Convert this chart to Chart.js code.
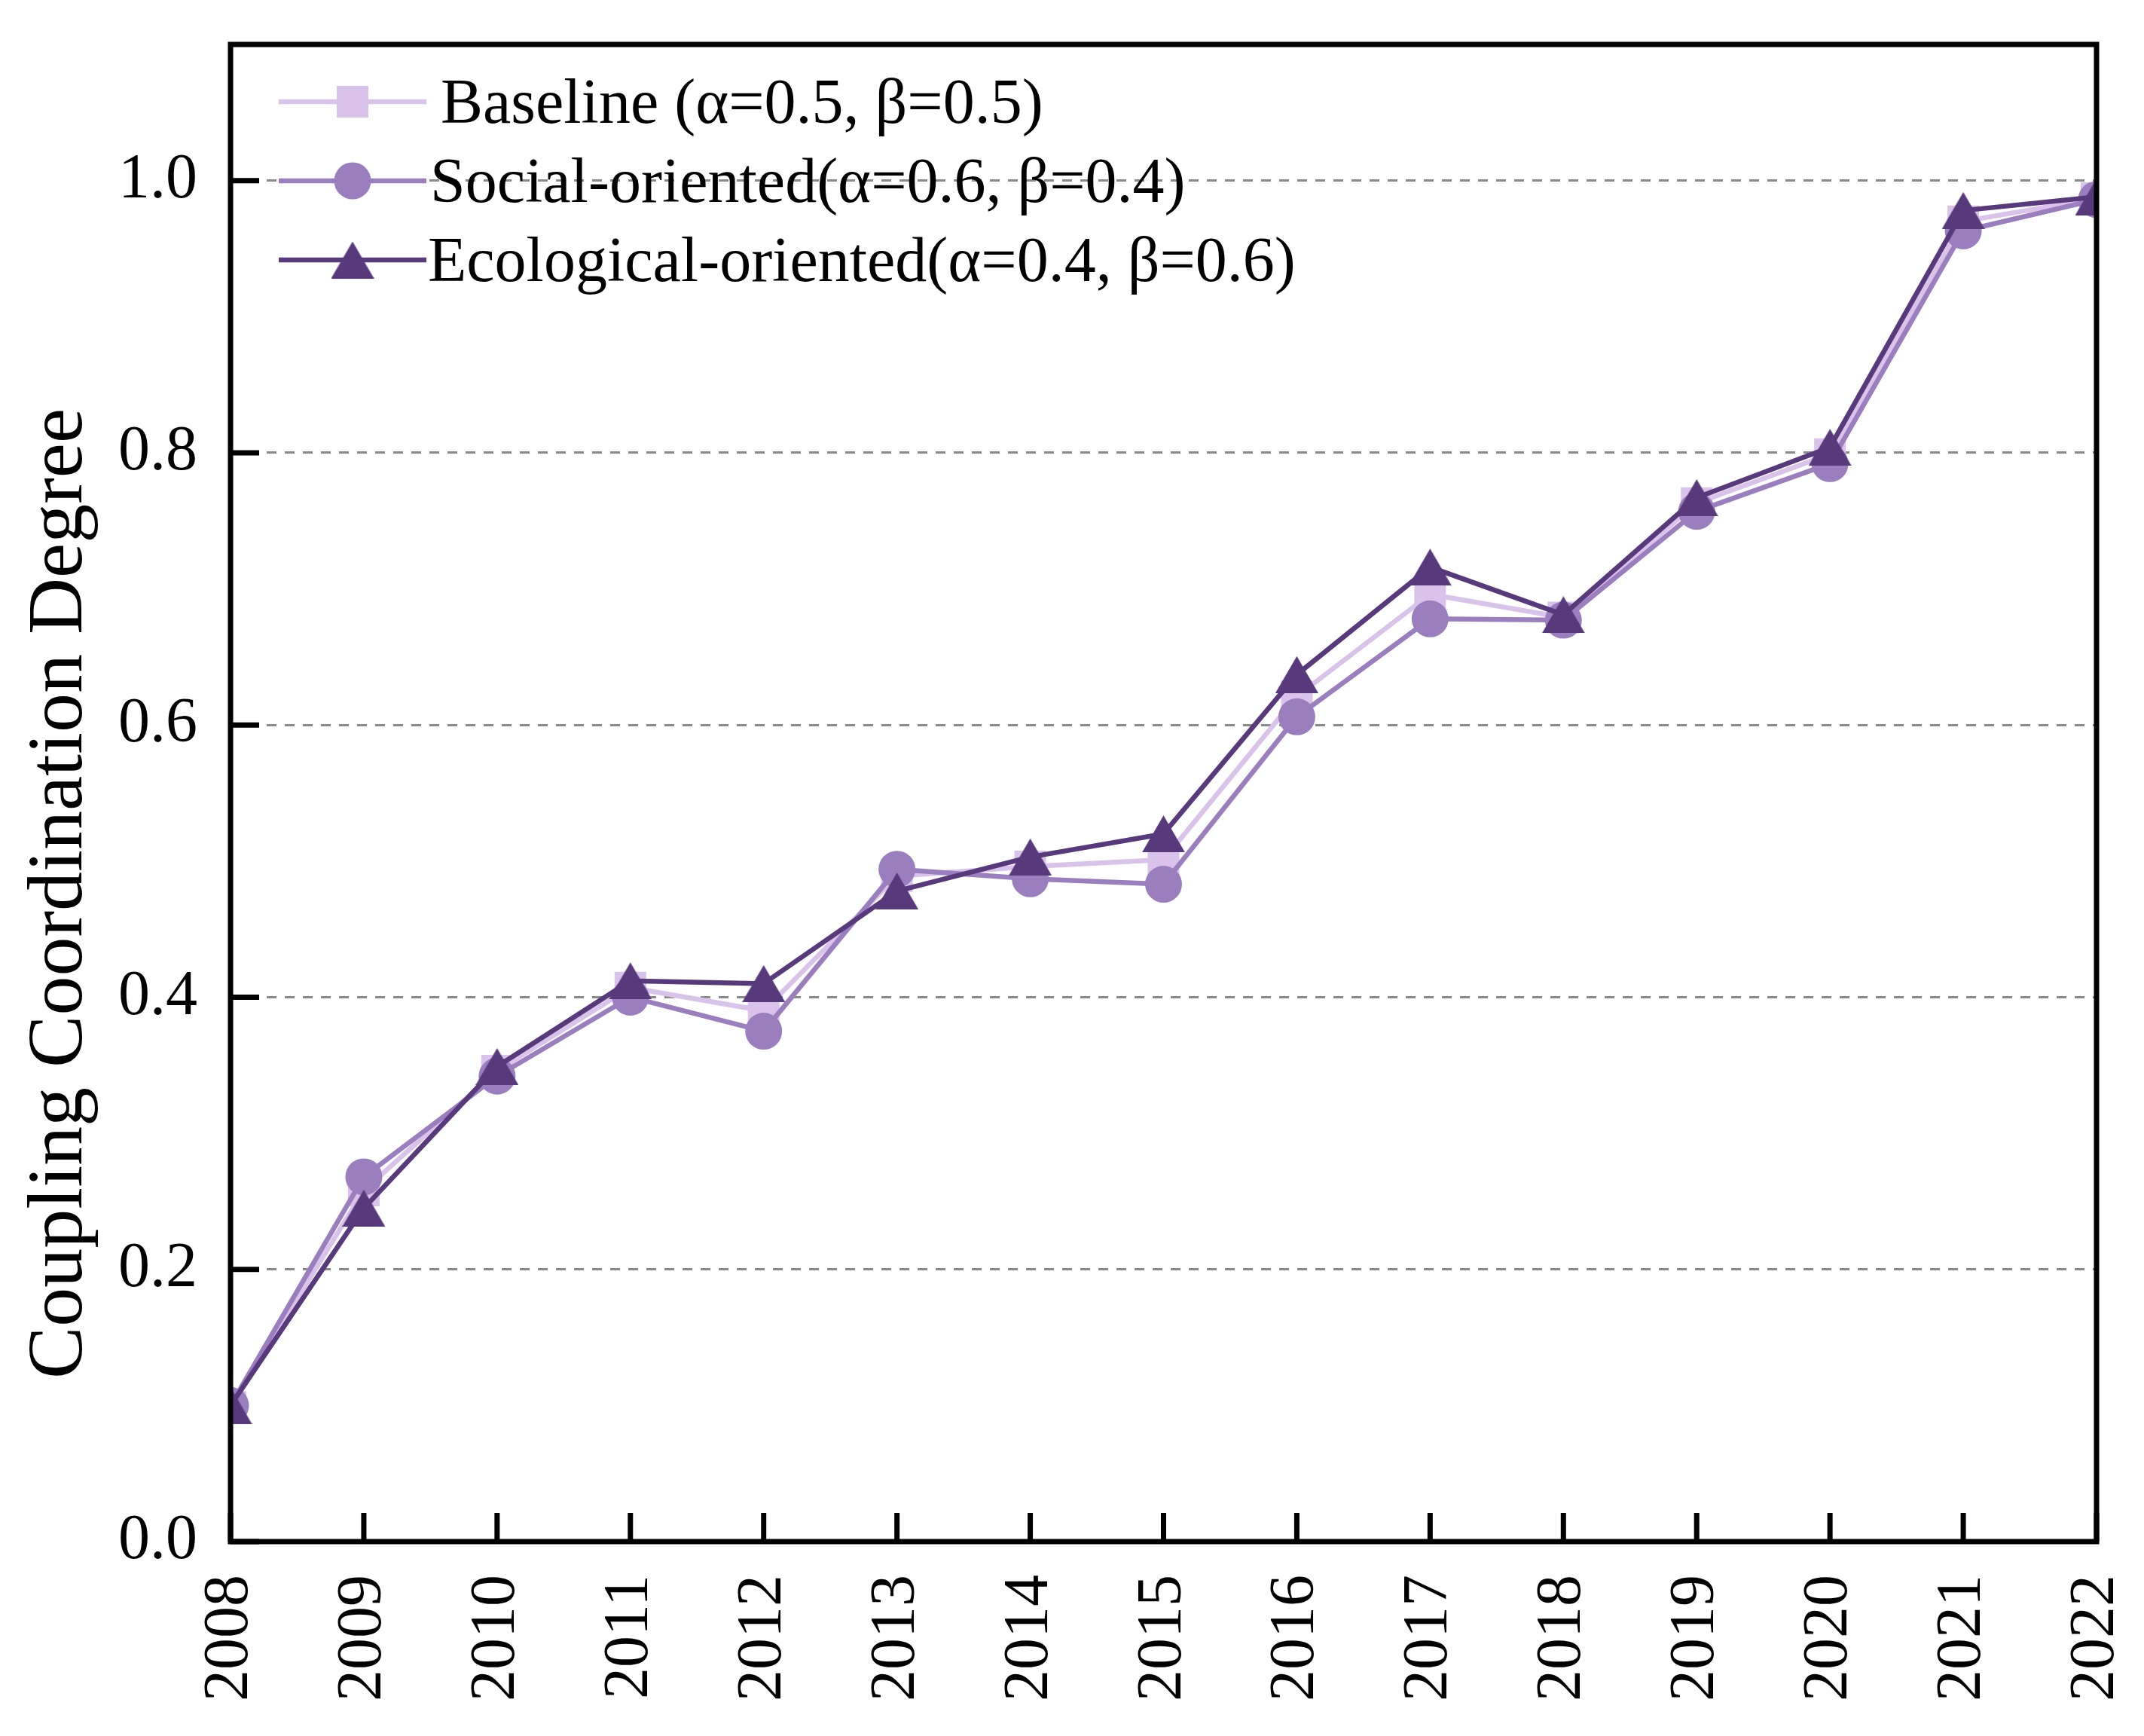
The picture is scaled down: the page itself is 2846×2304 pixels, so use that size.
<!DOCTYPE html>
<html lang="en">
<head>
  <meta charset="utf-8" />
  <title>Coupling Coordination Degree</title>
  <style>
html, body {
  margin: 0;
  padding: 0;
  background: #fff;
}
#chartContainer {
  width: 2846px;
  height: 2304px;
}
  </style>
</head>
<body>
  <div id="chartContainer">
    <canvas id="myChart" width="2846" height="2304"></canvas>
  </div>
  <script src="https://cdn.jsdelivr.net/npm/chart.js@4"></script>
  <script>
// data
const years = ['2008', '2009', '2010', '2011', '2012', '2013', '2014', '2015',
               '2016', '2017', '2018', '2019', '2020', '2021', '2022'];
const baseline   = [0.099, 0.258, 0.346, 0.407, 0.390, 0.489, 0.496, 0.501,
                    0.621, 0.696, 0.679, 0.763, 0.799, 0.970, 0.987];
const social     = [0.100, 0.268, 0.342, 0.400, 0.375, 0.494, 0.487, 0.483,
                    0.606, 0.678, 0.677, 0.757, 0.792, 0.963, 0.986];
const ecological = [0.100, 0.245, 0.349, 0.412, 0.410, 0.478, 0.503, 0.520,
                    0.637, 0.716, 0.681, 0.767, 0.804, 0.978, 0.988];
const yTicks = [0, 0.2, 0.4, 0.6, 0.8, 1.0];
const yTickLabels = ['0.0', '0.2', '0.4', '0.6', '0.8', '1.0'];
const legendLabels = ['Baseline (α=0.5, β=0.5)',
                      'Social-oriented(α=0.6, β=0.4)',
                      'Ecological-oriented(α=0.4, β=0.6)'];
const yTitle = 'Coupling Coordination Degree';

const C_BASE = '#dac3ea';
const C_SOC = '#9b7ebe';
const C_ECO = '#58397b';
const FONT = "'Liberation Serif', 'Times New Roman', serif";

Chart.defaults.font.family = FONT;
Chart.defaults.color = '#000';

// matplotlib-like '^' marker, centred on its box
function triangleMarker(color, w, h) {
  const c = document.createElement('canvas');
  c.width = w;
  c.height = h;
  const g = c.getContext('2d');
  g.fillStyle = color;
  g.beginPath();
  g.moveTo(w / 2, 0);
  g.lineTo(w, h);
  g.lineTo(0, h);
  g.closePath();
  g.fill();
  return c;
}
const triImg = triangleMarker(C_ECO, 57, 49);

const markers = [
  {style: 'rect', radius: 29.7, color: C_BASE},
  {style: 'circle', radius: 24.5, color: C_SOC},
  {style: triImg, radius: 28, color: C_ECO}
];

function noPadding(scale) {
  scale.paddingTop = 0;
  scale.paddingBottom = 0;
  scale.paddingLeft = 0;
  scale.paddingRight = 0;
}

const framePlugin = {
  id: 'frame',
  afterDatasetsDraw(chart) {
    const {ctx, chartArea: a, scales: {x, y}} = chart;
    ctx.save();
    ctx.strokeStyle = '#000';
    ctx.lineWidth = 7;
    ctx.beginPath();
    // inward ticks
    yTicks.forEach(v => {
      const py = y.getPixelForValue(v);
      ctx.moveTo(a.left, py);
      ctx.lineTo(a.left + 38, py);
    });
    years.forEach((t, i) => {
      const px = x.getPixelForValue(i);
      ctx.moveTo(px, a.bottom);
      ctx.lineTo(px, a.bottom - 38);
    });
    ctx.stroke();
    ctx.strokeRect(a.left, a.top, a.right - a.left, a.bottom - a.top);
    ctx.restore();
  },
  afterDraw(chart) {
    const ctx = chart.ctx;
    ctx.save();
    // legend
    const textX = [585, 571, 568];
    legendLabels.forEach((label, i) => {
      const cy = 135 + i * 105;
      const m = markers[i];
      ctx.strokeStyle = m.color;
      ctx.lineWidth = 6.5;
      ctx.beginPath();
      ctx.moveTo(370, cy);
      ctx.lineTo(566, cy);
      ctx.stroke();
      ctx.fillStyle = m.color;
      Chart.helpers.drawPoint(ctx, {pointStyle: m.style, radius: m.radius, borderWidth: 0, rotation: 0}, 468, cy);
      ctx.fillStyle = '#000';
      ctx.font = '84px ' + FONT;
      ctx.textAlign = 'left';
      ctx.textBaseline = 'alphabetic';
      ctx.fillText(label, textX[i], cy + 28);
    });
    // y axis title
    ctx.translate(108, 1186);
    ctx.rotate(-Math.PI / 2);
    ctx.font = '104px ' + FONT;
    ctx.textAlign = 'center';
    ctx.textBaseline = 'alphabetic';
    ctx.fillStyle = '#000';
    ctx.fillText(yTitle, 0, 0);
    ctx.restore();
  }
};

const series = [baseline, social, ecological];
const data = {
  labels: years,
  datasets: series.map((vals, i) => ({
    label: legendLabels[i],
    data: vals,
    borderColor: markers[i].color,
    backgroundColor: markers[i].color,
    borderWidth: 6.5,
    borderJoinStyle: 'round',
    pointStyle: markers[i].style,
    pointRadius: markers[i].radius,
    pointBorderWidth: 0,
    pointBackgroundColor: markers[i].color,
    tension: 0,
    fill: false,
    clip: 0,
    order: 3 - i   // ecological on top
  }))
};

const config = {
  type: 'line',
  data: data,
  options: {
    responsive: false,
    animation: false,
    events: [],
    layout: {
      padding: {left: 0, top: 59, right: 63, bottom: 0}
    },
    scales: {
      x: {
        type: 'category',
        offset: false,
        grid: {display: false, drawTicks: false},
        border: {display: false},
        ticks: {
          autoSkip: false,
          maxRotation: 90,
          minRotation: 90,
          padding: 44,
          font: {size: 84}
        },
        afterFit(scale) {
          scale.height = 258;
          noPadding(scale);
        }
      },
      y: {
        min: 0,
        max: 1.1,
        afterBuildTicks(scale) {
          scale.ticks = yTicks.map(v => ({value: v}));
        },
        grid: {
          drawTicks: false,
          lineWidth: 3,
          color: ctx => (ctx.tick && ctx.tick.value > 0 ? '#8a8a8a' : 'rgba(0,0,0,0)')
        },
        border: {display: false, dash: [13, 11]},
        ticks: {
          padding: 44,
          font: {size: 84},
          callback: (value, index) => yTickLabels[index]
        },
        afterFit(scale) {
          scale.width = 306;
          noPadding(scale);
        }
      }
    },
    plugins: {
      legend: {display: false},
      tooltip: {enabled: false}
    }
  },
  plugins: [framePlugin]
};

const chart = new Chart(document.getElementById('myChart'), config);
  </script>
</body>
</html>
